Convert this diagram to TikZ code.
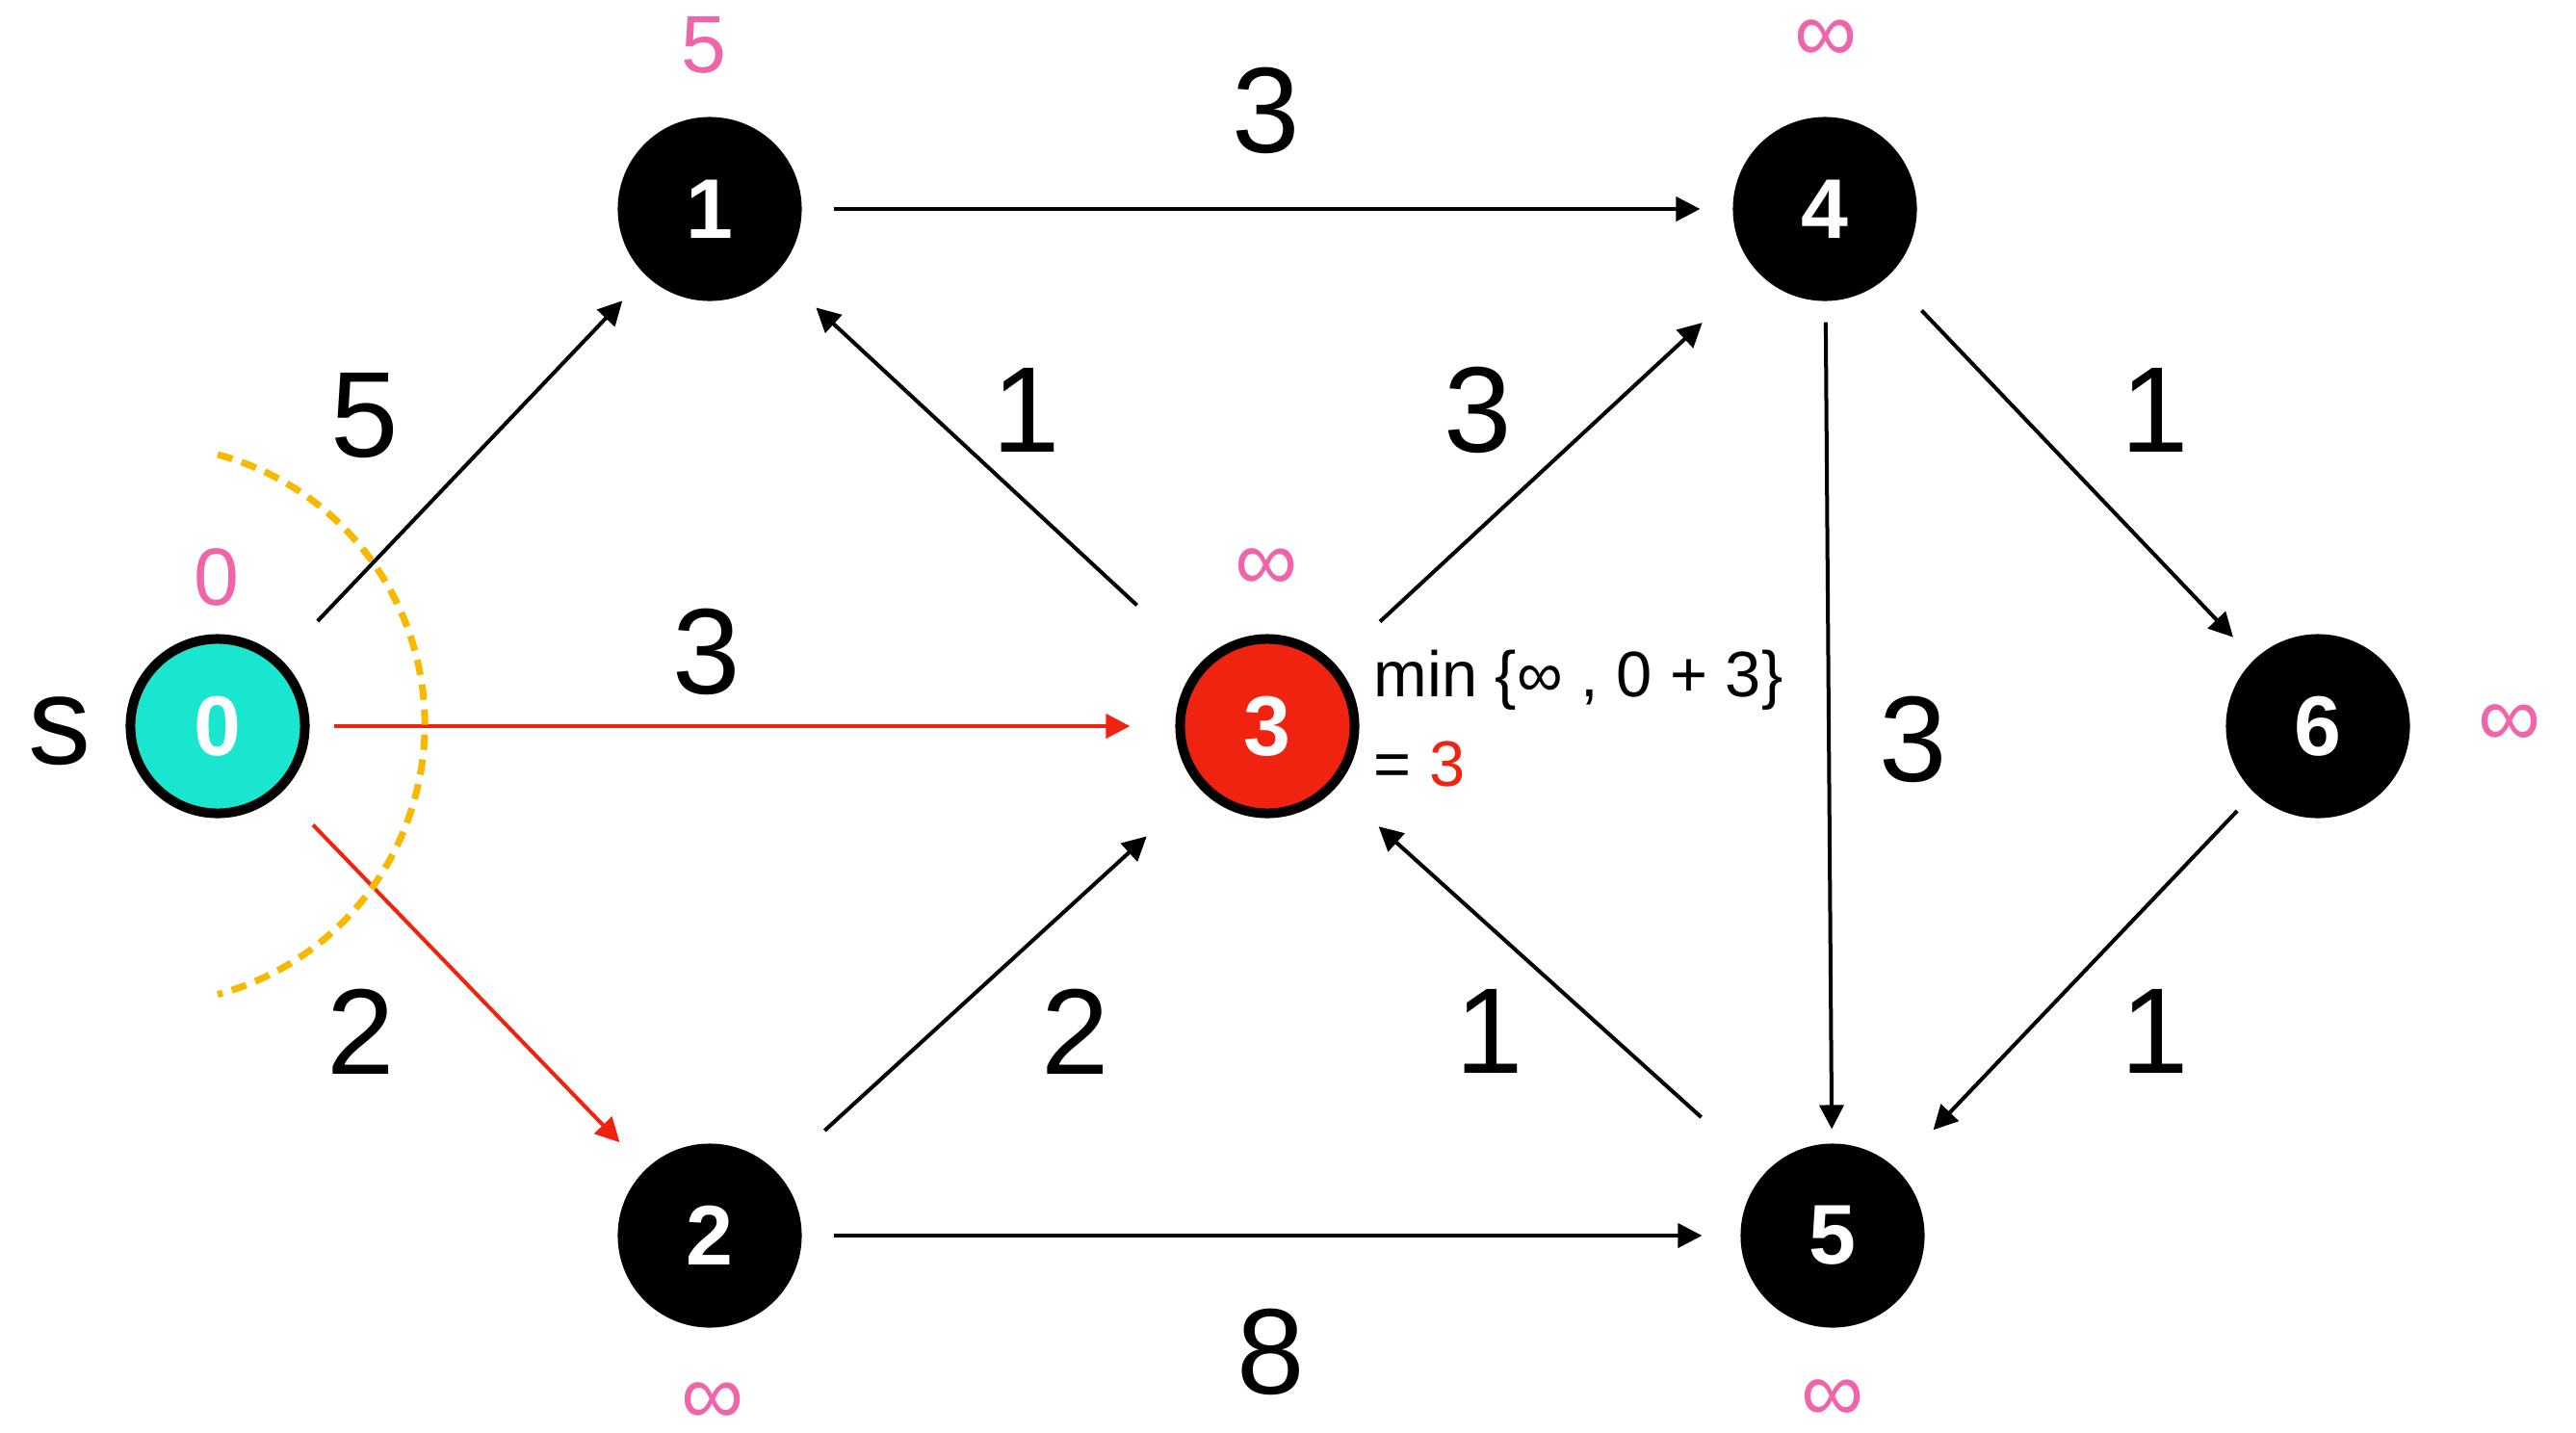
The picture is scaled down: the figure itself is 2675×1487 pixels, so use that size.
\documentclass[tikz,border=0pt]{standalone}
\usepackage{fontspec}
\setmainfont{Liberation Sans}
\usetikzlibrary{arrows.meta, calc}

\definecolor{srcteal}{RGB}{26,230,208}
\definecolor{hotred}{RGB}{240,35,16}
\definecolor{distpink}{RGB}{240,101,170}
\definecolor{arcgold}{RGB}{248,184,0}

\begin{document}
\begin{tikzpicture}[
    x=0.01cm, y=-0.01cm,
    vertex/.style={circle, draw=black, line width=0.1cm, fill=black, minimum size=1.81cm,
                   inner sep=0pt, text=white, font=\fontsize{25}{30}\selectfont\bfseries},
    source/.style={vertex, fill=srcteal},
    current/.style={vertex, fill=hotred},
    weight/.style={font=\fontsize{36}{43}\selectfont, inner sep=0pt},
    dist/.style={font=\fontsize{24}{29}\selectfont, text=distpink, inner sep=0pt},
    unreached/.style={dist, font=\fontsize{26}{31}\selectfont},
    note/.style={font=\fontsize{19}{23}\selectfont, inner sep=0pt, anchor=base west},
    arrow/.style={-{Triangle[length=0.25cm, width=0.25cm]}, line width=0.04cm},
    relax/.style={arrow, draw=hotred},
    gaps/.style 2 args={shorten <=#1cm, shorten >=#2cm},
    frontier/.style={draw=arcgold, line width=0.07cm, dash pattern=on 0.16cm off 0.1cm},
]
\useasboundingbox (0,0) rectangle (2675,1487);

% Vertices
\node[source]  (n0) at (226,754)  {0};
\node[vertex]  (n1) at (737,217)  {1};
\node[vertex]  (n2) at (737,1283) {2};
\node[current] (n3) at (1316,754) {3};
\node[vertex]  (n4) at (1895,217) {4};
\node[vertex]  (n5) at (1903,1283) {5};
\node[vertex]  (n6) at (2407,754) {6};

\node[font=\fontsize{37}{44}\selectfont, inner sep=0pt] (s) at (62,759) {s};

% Tentative distances
\node[dist] (d0) at (225,599)  {0};
\node[dist] (d1) at (731,47)   {5};
\node[unreached] (d2) at (740,1458) {∞};
\node[unreached] (d3) at (1315,592) {∞};
\node[unreached] (d4) at (1896,43)  {∞};
\node[unreached] (d5) at (1903,1455) {∞};
\node[unreached] (d6) at (2606,754) {∞};

% Edges
\draw[arrow, gaps={0.55}{0.36}] (n0) -- (n1);
\draw[relax, gaps={0.25}{0.47}] (n0) -- (n3);
\draw[relax, gaps={0.47}{0.39}] (n0) -- (n2);
\draw[arrow, gaps={0.33}{0.34}] (n1) -- (n4);
\draw[arrow, gaps={0.89}{0.55}] (n3) -- (n1);
\draw[arrow, gaps={0.64}{0.78}] (n3) -- (n4);
\draw[arrow, gaps={0.66}{0.74}] (n2) -- (n3);
\draw[arrow, gaps={0.88}{0.60}] (n5) -- (n3);
\draw[arrow, gaps={0.33}{0.40}] (n2) -- (n5);
\draw[arrow, gaps={0.22}{0.15}] (n4) -- (n5);
\draw[arrow, gaps={0.50}{0.32}] (n4) -- (n6);
\draw[arrow, gaps={0.26}{0.56}] (n6) -- (n5);

% Weights
\node[weight] (w01) at (379,432)  {5};
\node[weight] (w03) at (734,677)  {3};
\node[weight] (w02) at (375,1071) {2};
\node[weight] (w14) at (1315,115) {3};
\node[weight] (w31) at (1066,426) {1};
\node[weight] (w34) at (1535,426) {3};
\node[weight] (w23) at (1117,1071) {2};
\node[weight] (w53) at (1547,1071) {1};
\node[weight] (w25) at (1320,1404) {8};
\node[weight] (w45) at (1987,768) {3};
\node[weight] (w46) at (2238,426) {1};
\node[weight] (w65) at (2238,1071) {1};

% Relaxation of vertex 3
\node[note] (minA) at (1426,723) {min \{∞ , 0 + 3\}};
\node[note] (minB) at (1426,816) {= \textcolor{hotred}{3}};

% Frontier around the source
\draw[frontier] ($(n0)+(0,-282)$) arc[start angle=75, end angle=-75, radius=2.9cm];

\end{tikzpicture}
\end{document}
